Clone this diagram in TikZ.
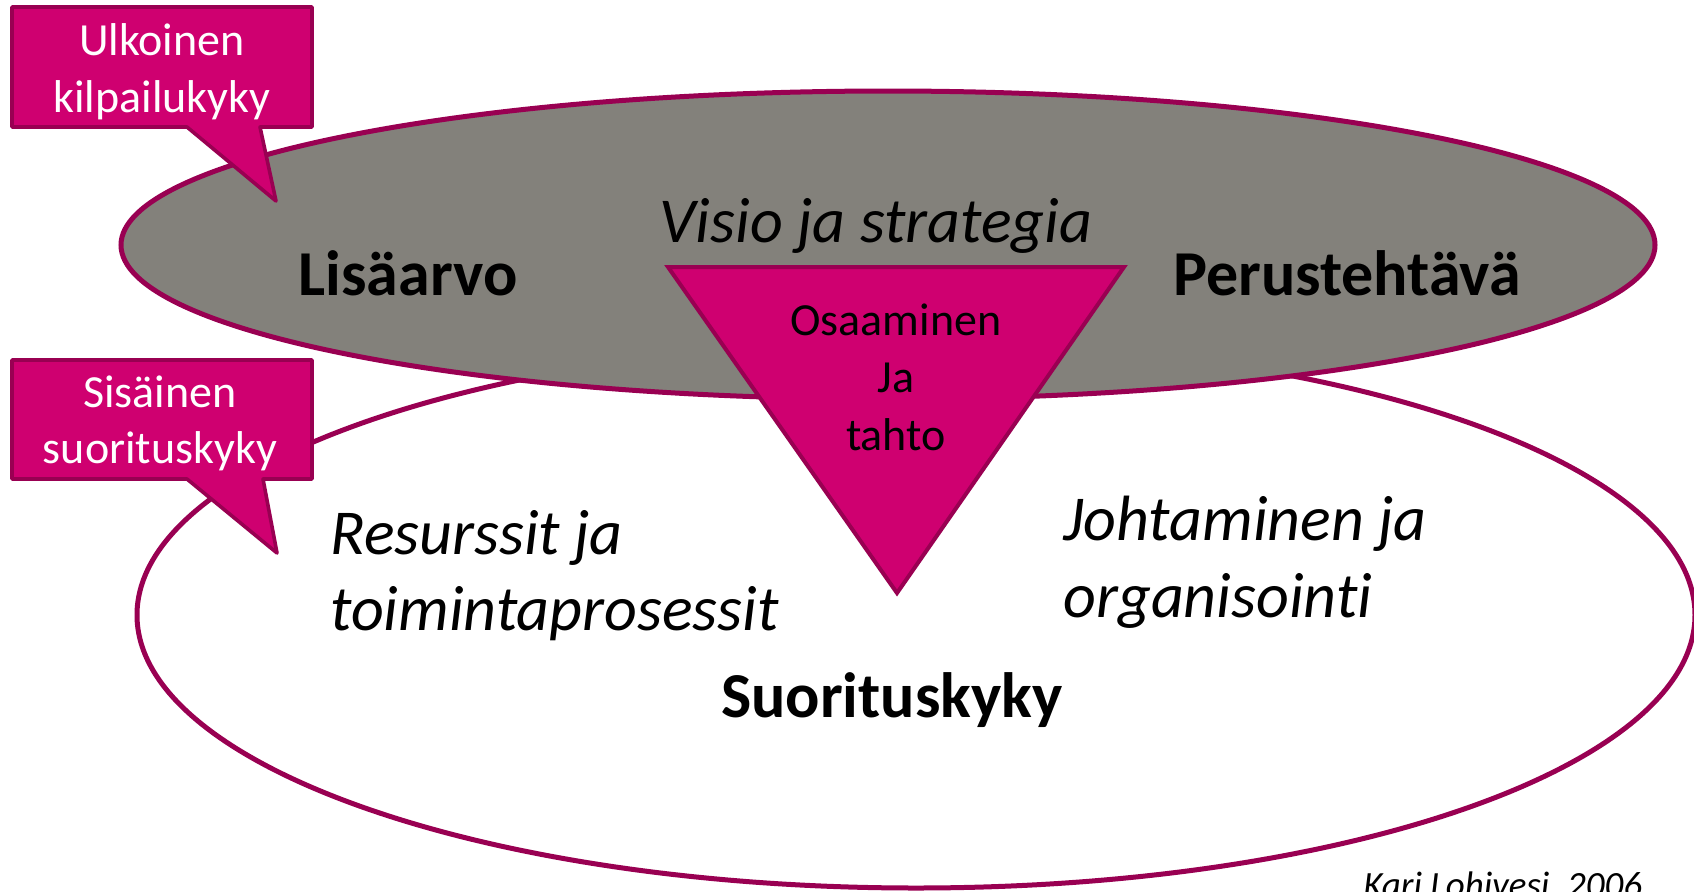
\documentclass[tikz,border=0pt]{standalone}
\usepackage{fontspec}
\setmainfont[Ligatures=NoCommon]{Carlito}
\definecolor{mag}{RGB}{207,0,112}
\definecolor{magline}{RGB}{153,0,82}
\definecolor{grayfill}{RGB}{131,129,123}
\begin{document}
\begin{tikzpicture}[x=0.5pt,y=-0.5pt,
  callout/.style={fill=mag,draw=magline,line width=1.8pt,line join=round},
  tri/.style={fill=mag,draw=magline,line width=2pt},
  ring/.style={draw=magline,line width=2.5pt},
  txt/.style={inner sep=0pt},
  calltext/.style={txt,text=white,font=\fontsize{23}{28}\selectfont,anchor=base},
  bigbold/.style={txt,font=\fontsize{32}{38}\selectfont\bfseries,anchor=base},
  bigital/.style={txt,font=\fontsize{32}{38}\selectfont\itshape,anchor=base west},
  tritext/.style={txt,font=\fontsize{23}{28}\selectfont,anchor=base}]
\useasboundingbox (0,0) rectangle (1694,891);
\begin{scope}
  \clip (0,0) rectangle (1694,891);
  % lower ellipse
  \draw[ring,fill=white] (916,615) ellipse [x radius=779, y radius=273];
  % upper ellipse
  \draw[ring,fill=grayfill] (888,245) ellipse [x radius=767, y radius=154];
\end{scope}
% callouts
\draw[callout] (12,7) -- (312,7) -- (312,127) -- (260,127) -- (276,201) -- (187,127) -- (12,127) -- cycle;
\draw[callout] (12,360) -- (312,360) -- (312,479) -- (263,479) -- (277,553) -- (187,479) -- (12,479) -- cycle;
% triangle
\draw[tri] (668,267) -- (1124,267) -- (897,593) -- cycle;
% texts
\node[calltext] (u1) at (162,55) {Ulkoinen};
\node[calltext] (u2) at (162,112) {kilpailukyky};
\node[calltext] (s1) at (160,407) {Sisäinen};
\node[calltext] (s2) at (160,463) {suorituskyky};
\node[bigbold] (lis) at (408,295) {Lisäarvo};
\node[bigbold] (per) at (1347,295) {Perustehtävä};
\node[txt,font=\fontsize{32}{38}\selectfont\itshape,anchor=base] (vis) at (876,242) {Visio ja strategia};
\node[tritext] (o1) at (896,335) {Osaaminen};
\node[tritext] (o2) at (896,392) {Ja};
\node[tritext] (o3) at (896,450) {tahto};
\node[bigital] (r1) at (330,554) {Resurssit ja};
\node[bigital] (r2) at (330,630) {toimintaprosessit};
\node[bigital] (j1) at (1063,540) {Johtaminen ja};
\node[bigital] (j2) at (1063,617) {organisointi};
\node[bigbold] (suo) at (892,717) {Suorituskyky};
\node[txt,font=\fontsize{18.5}{22}\selectfont\itshape,anchor=base west] (kari) at (1363,897) {Kari Lohivesi, 2006};
\end{tikzpicture}
\end{document}
